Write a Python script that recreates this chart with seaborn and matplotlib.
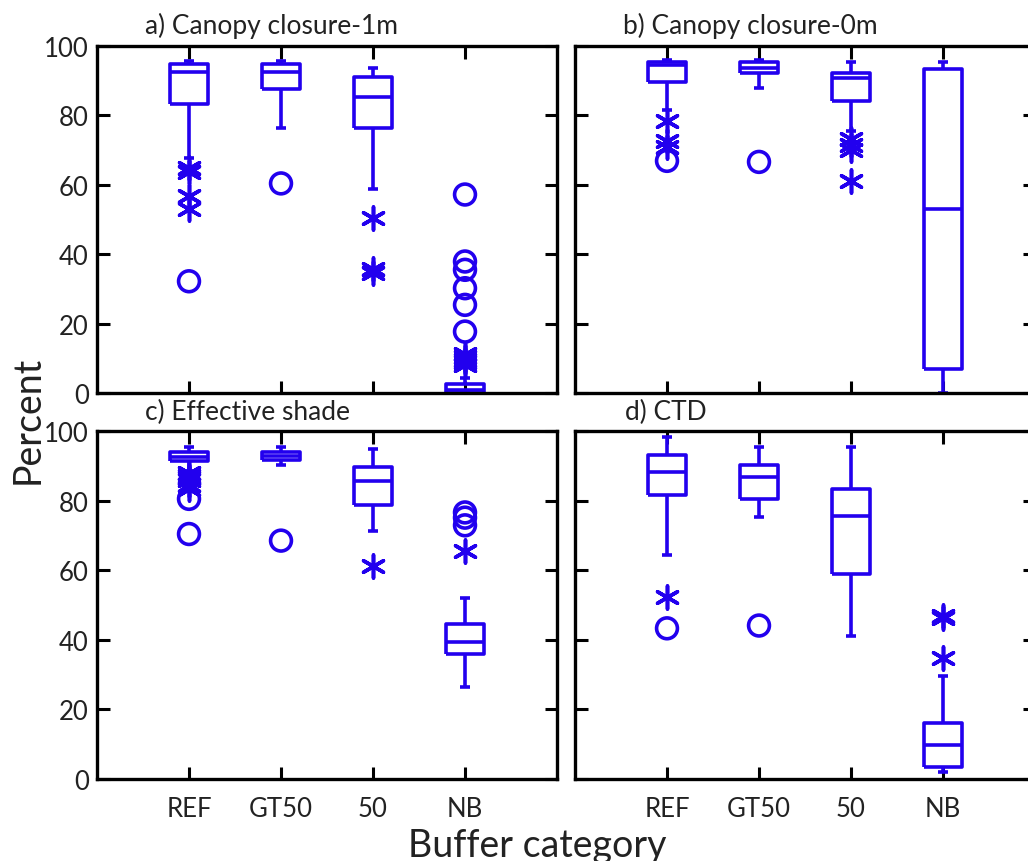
import matplotlib
matplotlib.use("Agg")
import matplotlib.pyplot as plt
import seaborn as sns
import pandas as pd

# ---------------- data ----------------
categories = ["REF", "GT50", "50", "NB"]
titles = ["a) Canopy closure-1m", "b) Canopy closure-0m", "c) Effective shade", "d) CTD"]

# five-number boxes per category: [whisker low, Q1, median, Q3, whisker high]
a_boxes = [[67.8, 83.4, 92.4, 94.8, 95.6],
           [76.5, 87.7, 92.4, 94.8, 95.6],
           [58.7, 76.5, 85.2, 91.2, 93.8],
           [0.0, 0.0, 1.0, 2.5, 4.2]]
b_boxes = [[81.6, 89.5, 94.5, 95.5, 96.0],
           [87.8, 92.1, 93.8, 95.5, 96.0],
           [75.5, 84.2, 90.9, 92.1, 95.5],
           [0.0, 6.9, 52.9, 93.5, 95.5]]
c_boxes = [[88.6, 91.4, 92.6, 94.0, 95.4],
           [90.1, 91.8, 92.9, 94.0, 95.4],
           [71.4, 78.7, 85.7, 89.6, 94.8],
           [26.3, 35.9, 39.5, 44.5, 52.0]]
d_boxes = [[64.4, 81.6, 88.1, 93.1, 98.2],
           [75.4, 80.6, 86.7, 90.2, 95.3],
           [41.0, 58.9, 75.5, 83.3, 95.3],
           [1.9, 3.5, 9.9, 16.0, 29.7]]

# outliers (circles) and extreme values (asterisks)
a_circle_cat = ["REF", "GT50", "NB", "NB", "NB", "NB", "NB", "NB"]
a_circle_val = [32.2, 60.4, 57.2, 37.9, 35.5, 30.2, 25.4, 17.7]
a_star_cat = ["REF", "REF", "REF", "REF", "50", "50", "50", "NB", "NB", "NB", "NB", "NB"]
a_star_val = [64.9, 63.6, 56.7, 52.9, 50.5, 35.6, 34.6, 11.3, 10.3, 9.5, 8.8, 8.0]

b_circle_cat = ["REF", "GT50"]
b_circle_val = [66.9, 66.6]
b_star_cat = ["REF", "REF", "REF", "50", "50", "50", "50"]
b_star_val = [78.4, 72.6, 70.8, 73.1, 71.5, 70.0, 61.1]

c_circle_cat = ["REF", "REF", "GT50", "NB", "NB", "NB"]
c_circle_val = [80.5, 70.4, 68.5, 76.6, 75.1, 72.9]
c_star_cat = ["REF", "REF", "REF", "REF", "REF", "REF", "50", "NB"]
c_star_val = [88.0, 87.2, 86.5, 85.8, 84.5, 83.2, 61.3, 65.6]

d_circle_cat = ["REF", "GT50"]
d_circle_val = [43.3, 44.1]
d_star_cat = ["REF", "NB", "NB", "NB"]
d_star_val = [52.2, 46.9, 46.2, 34.8]

y_ticks = [0, 20, 40, 60, 80, 100]
y_label = "Percent"
x_label = "Buffer category"

# ---------------- style ----------------
BLUE = "#2200EE"
TEXT = "#222222"
sns.set_style("white")
plt.rcParams["font.family"] = ["Lato", "DejaVu Sans"]

W, H = 1028, 862
fig = plt.figure(figsize=(W / 100, H / 100), dpi=100)

def px_axes(left, top, right, bottom):
    return fig.add_axes([left / W, 1 - bottom / H, (right - left) / W, (bottom - top) / H])

panels = [
    (px_axes(97, 47, 557, 394), a_boxes, a_circle_cat, a_circle_val, a_star_cat, a_star_val),
    (px_axes(575, 47, 1035, 394), b_boxes, b_circle_cat, b_circle_val, b_star_cat, b_star_val),
    (px_axes(97, 432, 557, 780), c_boxes, c_circle_cat, c_circle_val, c_star_cat, c_star_val),
    (px_axes(575, 432, 1035, 780), d_boxes, d_circle_cat, d_circle_val, d_star_cat, d_star_val),
]

pos = {c: i for i, c in enumerate(categories)}
lw = 2.6

for k, (ax, boxes, ccat, cval, scat, sval) in enumerate(panels):
    stats = [dict(whislo=b[0], q1=b[1], med=b[2], q3=b[3], whishi=b[4], fliers=[], label=c)
             for b, c in zip(boxes, categories)]
    line = dict(color=BLUE, linewidth=lw, solid_capstyle="butt")
    ax.bxp(stats, positions=list(range(len(categories))), widths=0.42, capwidths=0.1,
           showfliers=False, boxprops=line, whiskerprops=line, capprops=line,
           medianprops=line, manage_ticks=False)
    if cval:
        dfc = pd.DataFrame({"x": [pos[c] for c in ccat], "y": cval})
        sns.scatterplot(data=dfc, x="x", y="y", marker="o", s=225, color=BLUE,
                        facecolor="none", edgecolor=BLUE, linewidth=lw, ax=ax,
                        legend=False, clip_on=False, zorder=3)
    if sval:
        dfs = pd.DataFrame({"x": [pos[c] for c in scat], "y": sval})
        sns.scatterplot(data=dfs, x="x", y="y", marker=(6, 2, 0), s=272, color=BLUE,
                        linewidth=lw, ax=ax, legend=False, clip_on=False, zorder=3)

    ax.set_xlim(-1, 4)
    ax.set_ylim(0, 100)
    ax.set_xticks(range(len(categories)))
    ax.set_yticks(y_ticks)
    ax.set_xlabel("")
    ax.set_ylabel("")
    for sp in ax.spines.values():
        sp.set_visible(True)
        sp.set_color("black")
        sp.set_linewidth(2.4)
    ax.tick_params(direction="in", length=9, width=2.2, color="black",
                   top=True, right=True, bottom=True, left=True,
                   labelsize=18.5, labelcolor=TEXT)
    ax.tick_params(axis="y", pad=6)
    ax.tick_params(axis="x", pad=12)
    if k in (2, 3):
        ax.set_xticklabels(categories)
    else:
        ax.set_xticklabels([])
    if k in (0, 2):
        ax.set_yticklabels([str(t) for t in y_ticks])
    else:
        ax.set_yticklabels([])

# panel titles
title_pos = [(145, 34), (623, 34), (145, 420), (625, 420)]
for t, (x, y) in zip(titles, title_pos):
    fig.text(x / W, 1 - y / H, t, fontsize=19, color=TEXT, ha="left", va="baseline")

fig.text(28 / W, 1 - 420 / H, y_label, fontsize=27, color=TEXT, rotation=90,
         ha="center", va="center")
fig.text(537 / W, 1 - 857 / H, x_label, fontsize=27, color=TEXT,
         ha="center", va="baseline")

fig.savefig("out.png", dpi=100)
